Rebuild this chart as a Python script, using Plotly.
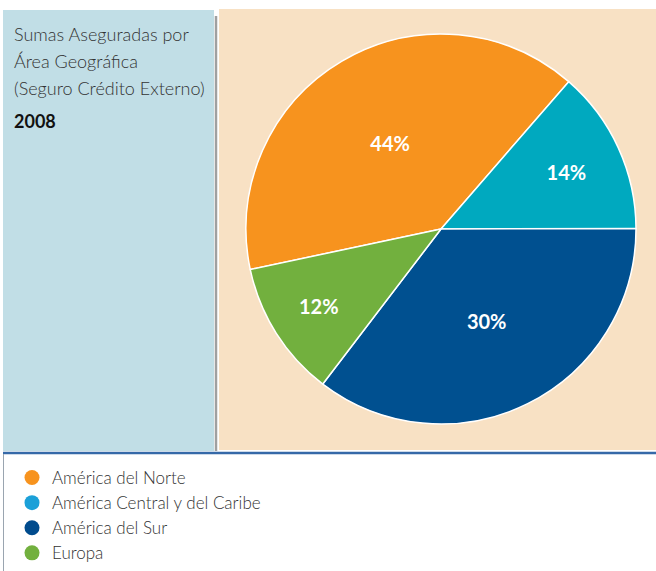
import plotly.graph_objects as go

# --- Datos ---
regiones = ["América del Norte", "América Central y del Caribe", "América del Sur", "Europa"]
valores = [39.7, 13.6, 35.4, 11.3]          # sectores tal como están dibujados
etiquetas = ["44%", "14%", "30%", "12%"]    # porcentajes rotulados
colores_sector = ["#F7931E", "#00A9BF", "#005090", "#72B03E"]
colores_leyenda = ["#F7931E", "#1BA0D8", "#004B8D", "#72B03E"]

titulo = ["Sumas Aseguradas por", "Área Geográfica", "(Seguro Crédito Externo)"]
anio = "2008"

W, H = 656, 571
FUENTE = "Lato"


def px(x):
    return x / W


def py(y):
    return 1 - y / H


fig = go.Figure()

fig.add_trace(go.Pie(
    labels=regiones, values=valores, text=etiquetas,
    textinfo="text", textposition="inside", insidetextorientation="horizontal",
    textfont=dict(color="white", size=20, family=FUENTE, weight="bold"),
    marker=dict(colors=colores_sector, line=dict(color="white", width=1.5)),
    sort=False, direction="clockwise", rotation=258,
    domain=dict(x=[px(246), px(636)], y=[py(424), py(34)]),
    showlegend=False, hoverinfo="label+text"
))

# leyenda con círculos
for nombre, color in zip(regiones, colores_leyenda):
    fig.add_trace(go.Scatter(
        x=[None], y=[None], mode="markers", name=nombre,
        marker=dict(symbol="circle", size=15, color=color)
    ))

shapes = [
    # panel izquierdo
    dict(type="rect", xref="paper", yref="paper", x0=px(3), x1=px(214), y0=py(451), y1=py(10),
         fillcolor="#C1DEE6", line=dict(width=0), layer="below"),
    # panel derecho
    dict(type="rect", xref="paper", yref="paper", x0=px(219), x1=px(656), y0=py(450), y1=py(9),
         fillcolor="#F8E1C4", line=dict(width=0), layer="below"),
    # separador gris
    dict(type="line", xref="paper", yref="paper", x0=px(216), x1=px(216), y0=py(451), y1=py(16),
         line=dict(color="#A0A0A0", width=2.5), layer="below"),
    # línea azul inferior
    dict(type="line", xref="paper", yref="paper", x0=px(3), x1=px(656), y0=py(453), y1=py(453),
         line=dict(color="#3569A8", width=2.5)),
    # borde izquierdo leyenda
    dict(type="line", xref="paper", yref="paper", x0=px(3.5), x1=px(3.5), y0=py(454), y1=py(571),
         line=dict(color="#9AA5B0", width=1)),
]

anotaciones = []
for i, linea in enumerate(titulo):
    anotaciones.append(dict(
        text=linea, x=px(12), y=py(34 + 27 * i), xref="paper", yref="paper",
        xanchor="left", yanchor="middle", showarrow=False,
        font=dict(family=FUENTE, size=18, color="#333333", weight=300)
    ))
anotaciones.append(dict(
    text=anio, x=px(12), y=py(121), xref="paper", yref="paper",
    xanchor="left", yanchor="middle", showarrow=False,
    font=dict(family=FUENTE, size=18, color="#111111", weight="bold")
))

fig.update_layout(
    width=W, height=H, autosize=False,
    margin=dict(l=0, r=0, t=0, b=0),
    paper_bgcolor="white", plot_bgcolor="white",
    xaxis=dict(visible=False), yaxis=dict(visible=False),
    shapes=shapes, annotations=anotaciones,
    showlegend=True,
    legend=dict(
        x=px(12), y=0, xanchor="left", yanchor="bottom",
        bgcolor="rgba(0,0,0,0)", font=dict(family=FUENTE, size=17, color="#333333", weight=300),
        tracegroupgap=0, itemclick=False
    ),
)

fig.write_html("out.html", post_script="document.body.style.margin='0';",
               config={"displayModeBar": False})
